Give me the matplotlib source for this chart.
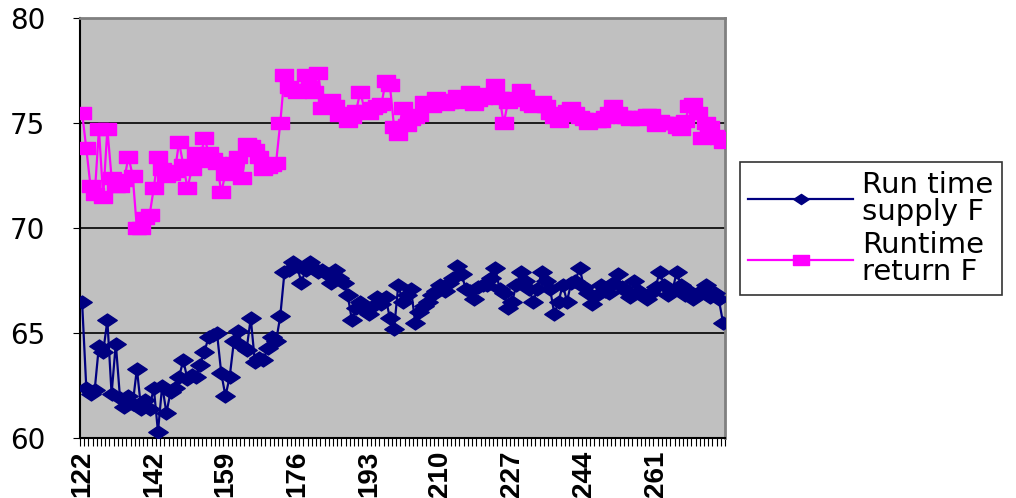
import matplotlib.pyplot as plt
from matplotlib.path import Path
import numpy as np

# readings per sample (153 samples, labels every 17th)
supply_f = [66.5, 62.4, 62.1, 62.3, 64.4, 64.1, 65.6, 62.1, 64.5, 61.9,
            61.5, 62.0, 61.6, 63.3, 61.4, 61.8, 61.4, 62.4, 60.3, 62.5,
            61.2, 62.2, 62.4, 62.9, 63.7, 62.8, 63.0, 62.9, 63.5, 64.1,
            64.8, 64.9, 65.0, 63.1, 62.0, 62.9, 64.6, 65.1, 64.4, 64.2,
            65.7, 63.6, 63.8, 63.7, 64.3, 64.8, 64.6, 65.8, 67.9, 68.0,
            68.4, 68.2, 67.4, 68.0, 68.4, 68.1, 67.9, 68.0, 67.8, 67.4,
            68.0, 67.6, 67.4, 66.8, 65.6, 66.2, 66.5, 66.1, 65.9, 66.3,
            66.7, 66.4, 66.7, 65.7, 65.2, 67.3, 66.5, 66.8, 67.1, 65.5,
            66.0, 66.3, 66.5, 66.8, 67.0, 67.3, 67.0, 67.4, 67.6, 68.2,
            67.8, 67.1, 67.0, 66.6, 67.2, 67.3, 67.3, 67.6, 68.1, 67.1,
            66.9, 66.2, 66.5, 67.3, 67.9, 67.5, 67.1, 66.5, 67.1, 67.9,
            67.5, 67.1, 65.9, 66.5, 67.3, 66.5, 67.4, 67.5, 68.1, 67.2,
            66.9, 66.4, 66.8, 67.3, 67.0, 66.9, 67.4, 67.8, 67.2, 67.0,
            66.7, 67.5, 67.0, 66.8, 66.6, 66.9, 67.2, 67.9, 67.3, 66.8,
            67.0, 67.9, 67.3, 66.8, 67.0, 66.6, 66.9, 67.0, 67.3, 66.7,
            66.9, 66.6, 65.5]

return_f = [75.5, 73.8, 72.0, 71.6, 74.7, 71.5, 74.7, 72.4, 72.0, 72.0,
            72.3, 73.4, 72.5, 70.0, 70.0, 70.5, 70.6, 71.9, 73.4, 72.8,
            72.5, 72.6, 72.7, 74.1, 73.0, 71.9, 72.8, 73.6, 73.2, 74.3,
            73.6, 73.3, 73.1, 71.7, 72.6, 73.0, 73.1, 73.4, 72.4, 74.0,
            73.9, 73.7, 73.4, 72.8, 72.9, 73.0, 73.1, 75.0, 77.3, 76.7,
            76.6, 76.5, 76.6, 77.3, 76.7, 76.5, 77.4, 75.7, 75.9, 76.1,
            75.8, 75.4, 75.5, 75.1, 75.3, 75.6, 76.5, 75.6, 75.5, 75.7,
            75.8, 75.9, 77.0, 76.8, 74.8, 74.5, 75.7, 74.9, 75.2, 75.3,
            75.4, 76.0, 75.9, 75.8, 76.2, 76.0, 75.9, 76.0, 76.1, 76.3,
            76.0, 76.2, 76.5, 75.9, 76.1, 76.2, 76.4, 76.3, 76.8, 76.2,
            75.0, 76.0, 76.2, 76.1, 76.6, 76.3, 75.9, 75.8, 75.9, 76.0,
            75.8, 75.5, 75.3, 75.1, 75.4, 75.6, 75.7, 75.5, 75.3, 75.2,
            75.0, 75.2, 75.1, 75.1, 75.3, 75.5, 75.8, 75.5, 75.3, 75.3,
            75.2, 75.3, 75.2, 75.3, 75.4, 75.4, 74.9, 75.1, 75.0, 75.0,
            75.0, 74.8, 74.7, 75.1, 75.8, 75.9, 75.5, 74.3, 75.0, 74.8,
            74.4, 74.3, 74.1]

tick_labels = ['122', '142', '159', '176', '193', '210', '227', '244', '261']
label_every = 17

# excel style markers, a bit wider than tall
diamond = Path([(-1.5, 0), (0, 1), (1.5, 0), (0, -1), (-1.5, 0)],
               [Path.MOVETO, Path.LINETO, Path.LINETO, Path.LINETO, Path.CLOSEPOLY])
rect = Path([(-1.5, -1), (1.5, -1), (1.5, 1), (-1.5, 1), (-1.5, -1)],
            [Path.MOVETO, Path.LINETO, Path.LINETO, Path.LINETO, Path.CLOSEPOLY])

plt.rcParams['font.family'] = ['Liberation Sans', 'DejaVu Sans']

fig = plt.figure(figsize=(10.16, 4.98), dpi=100)
ax = fig.add_axes([0.0787, 0.1205, 0.635, 0.843])
ax.set_facecolor('#C0C0C0')

x = np.arange(len(supply_f))
ax.plot(x, supply_f, color='#000080', linewidth=1.6, marker=diamond,
        markersize=14, label='Run time\nsupply F', zorder=3)
ax.plot(x, return_f, color='#FF00FF', linewidth=1.6, marker=rect,
        markersize=13, label='Runtime\nreturn F', zorder=3)

ax.set_ylim(60, 80)
ax.set_yticks([60, 65, 70, 75, 80])
ax.set_xlim(-0.5, len(supply_f) - 0.5)
ax.grid(axis='y', color='black', linewidth=1.2)
ax.set_axisbelow(True)

# category ticks between samples, labels every 17th sample
ax.set_xticks(np.arange(len(supply_f) + 1) - 0.5, minor=True)
ax.set_xticks(np.arange(len(tick_labels)) * label_every)
ax.set_xticklabels(tick_labels, rotation=90, fontsize=20, fontweight='bold')
ax.tick_params(axis='x', which='major', length=0, pad=9)
ax.tick_params(axis='x', which='minor', length=6, width=0.8, direction='out')
ax.tick_params(axis='y', length=5, direction='out', pad=20)
for t in ax.get_yticklabels():
    t.set_fontfamily('DejaVu Sans')
    t.set_fontsize(20)

for side in ['top', 'right']:
    ax.spines[side].set_color('#808080')
    ax.spines[side].set_linewidth(2)
ax.spines['left'].set_linewidth(1.5)
ax.spines['bottom'].set_linewidth(1.5)

leg = fig.legend(loc='upper left', bbox_to_anchor=(0.728, 0.675),
                 prop={'family': 'DejaVu Sans', 'size': 21},
                 frameon=True, fancybox=False, edgecolor='black',
                 handlelength=3.6, labelspacing=0.2, borderpad=0.3,
                 handletextpad=0.3, borderaxespad=0)
leg.get_frame().set_linewidth(1.2)
for t in leg.get_texts():
    t.set_linespacing(0.95)
for h in leg.legend_handles:
    h.set_markersize(11)

plt.savefig('out.png', dpi=100)
